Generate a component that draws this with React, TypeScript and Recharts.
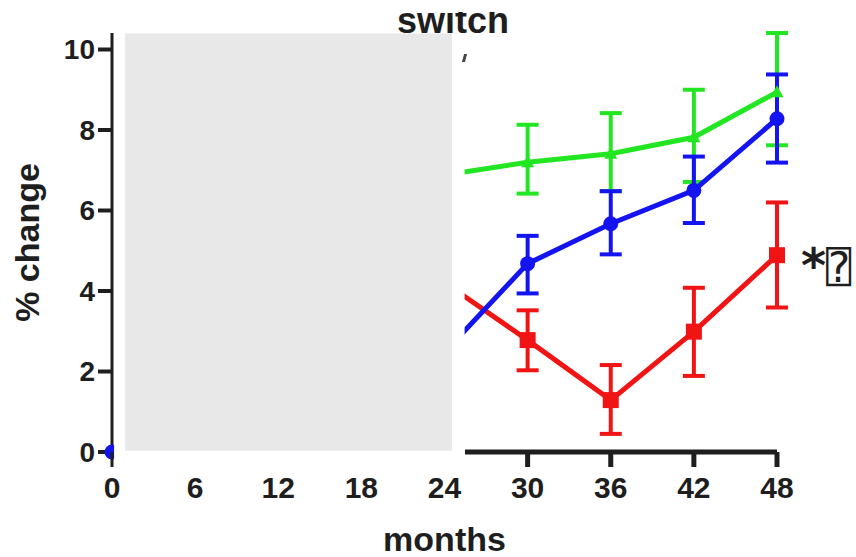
import { LineChart, Line, XAxis, YAxis, ErrorBar, ReferenceArea, ReferenceLine, ReferenceDot, Label } from 'recharts'

const FONT = '"Liberation Sans", Arial, Helvetica, sans-serif'
const GREEN = '#22e622'
const BLUE = '#1414f0'
const RED = '#f01414'
const INK = '#1e1e1e'

// months; points between 0 and 24 sit under the grey box
const months = [0, 24, 30, 36, 42, 48]
const xTicks = [0, 6, 12, 18, 24, 30, 36, 42, 48]
const yTicks = [0, 2, 4, 6, 8, 10]

const green = [null, 6.88, 7.2, 7.41, 7.82, 8.94]
const greenLo = [null, null, 6.42, 6.48, 6.71, 7.62]
const greenHi = [null, null, 8.13, 8.42, 9.0, 10.41]

const blue = [0, 2.48, 4.68, 5.67, 6.5, 8.28]
const blueLo = [null, null, 3.94, 4.91, 5.69, 7.19]
const blueHi = [null, null, 5.37, 6.48, 7.34, 9.38]

const red = [null, 4.21, 2.78, 1.29, 2.99, 4.89]
const redLo = [null, null, 2.03, 0.45, 1.89, 3.59]
const redHi = [null, null, 3.52, 2.16, 4.08, 6.2]

const err = (v: number | null, lo: number | null, hi: number | null) =>
  v == null || lo == null || hi == null ? undefined : [v - lo, hi - v]

const data = months.map((m, i) => ({
  month: m,
  green: green[i],
  greenErr: err(green[i], greenLo[i], greenHi[i]),
  blue: blue[i],
  blueErr: err(blue[i], blueLo[i], blueHi[i]),
  red: red[i],
  redErr: err(red[i], redLo[i], redHi[i]),
}))

function MonthTick({ x, y, payload }: any) {
  const v = payload.value
  const mark = v === 0 || v >= 30
  return (
    <g>
      {mark && (
        <line x1={x} x2={x} y1={y - 25} y2={y - 10} stroke={INK} strokeWidth={v === 0 ? 3 : 5} />
      )}
      <text x={x} y={y + 21} textAnchor="middle" fontSize={30} fontWeight="bold" fontFamily={FONT} fill={INK}>
        {v}
      </text>
    </g>
  )
}

function TriDot({ cx, cy }: any) {
  if (cx == null || cy == null) return null
  return <path d={`M${cx},${cy - 7} L${cx - 6.5},${cy + 5} L${cx + 6.5},${cy + 5} Z`} fill={GREEN} />
}

function RoundDot({ cx, cy }: any) {
  if (cx == null || cy == null) return null
  return <circle cx={cx} cy={cy} r={7.5} fill={BLUE} />
}

function SquareDot({ cx, cy }: any) {
  if (cx == null || cy == null) return null
  return <rect x={cx - 8} y={cy - 8} width={16} height={16} fill={RED} />
}

function StarNote({ viewBox }: any) {
  const { x, y } = viewBox
  return (
    <text x={x + 24} y={y + 27} fill={INK}>
      <tspan fontFamily='"DejaVu Sans", sans-serif' fontWeight="bold" fontSize={48}>*</tspan>
      <tspan fontWeight="normal" fontSize={42} fontFamily='"DejaVu Sans", "DejaVu Sans Mono"'>⍰</tspan>
    </text>
  )
}

export default function App() {
  return (
    <div style={{ position: 'absolute', left: 0, top: 0, width: 856, height: 557, background: '#fff', overflow: 'hidden' }}>
      <LineChart width={856} height={557} data={data} margin={{ top: 33, right: 79, bottom: 0, left: 32 }}>
        <XAxis
          dataKey="month"
          type="number"
          domain={[0, 48]}
          ticks={xTicks}
          interval={0}
          axisLine={false}
          tickLine={false}
          tickSize={14}
          tickMargin={11}
          height={105}
          tick={<MonthTick />}
        >
          <Label value="months" position="insideBottom" offset={6} fontSize={34} fontWeight="bold" fontFamily={FONT} fill={INK} />
        </XAxis>
        <YAxis
          type="number"
          domain={[0, 10.4]}
          ticks={yTicks}
          width={80}
          axisLine={{ stroke: INK, strokeWidth: 3 }}
          tickLine={{ stroke: INK, strokeWidth: 4 }}
          tickSize={14}
          tickMargin={3}
          tick={{ fontSize: 28, fontWeight: 'bold', fill: INK, fontFamily: FONT }}
        >
          <Label
            value="% change"
            angle={-90}
            position="insideLeft"
            offset={-5}
            style={{ textAnchor: 'middle' }}
            fontSize={34}
            fontWeight="bold"
            fontFamily={FONT}
            fill={INK}
          />
        </YAxis>

        <Line dataKey="green" stroke={GREEN} strokeWidth={5} dot={<TriDot />} activeDot={false} isAnimationActive={false}>
          <ErrorBar dataKey="greenErr" width={11} strokeWidth={4} stroke={GREEN} direction="y" />
        </Line>
        <Line dataKey="red" stroke={RED} strokeWidth={5} dot={<SquareDot />} activeDot={false} isAnimationActive={false}>
          <ErrorBar dataKey="redErr" width={11} strokeWidth={4} stroke={RED} direction="y" />
        </Line>
        <Line dataKey="blue" stroke={BLUE} strokeWidth={5} dot={<RoundDot />} activeDot={false} isAnimationActive={false}>
          <ErrorBar dataKey="blueErr" width={11} strokeWidth={4} stroke={BLUE} direction="y" />
        </Line>

        <ReferenceArea x1={0.15} x2={25.45} y1={-0.2} y2={10.4} fill="#ffffff" fillOpacity={1} stroke="none" ifOverflow="visible" zIndex={900} />
        <ReferenceArea x1={0.95} x2={24.54} y1={0.03} y2={10.4} fill="#e8e8e8" fillOpacity={1} stroke="none" ifOverflow="visible" zIndex={910} />
        <ReferenceLine segment={[{ x: 25.48, y: 0 }, { x: 48, y: 0 }]} stroke={INK} strokeWidth={5} ifOverflow="visible" zIndex={920} />
        <ReferenceDot x={48} y={4.89} r={0} fill="none" stroke="none" label={<StarNote />} zIndex={920} />
      </LineChart>

      <div style={{ position: 'absolute', left: 353, top: 12, width: 200, height: 28, overflow: 'hidden' }}>
        <div
          style={{
            position: 'absolute',
            left: 0,
            top: -9.5,
            width: 200,
            textAlign: 'center',
            fontFamily: FONT,
            fontWeight: 'bold',
            fontSize: 36,
            lineHeight: '36px',
            color: INK,
          }}
        >
          switch
        </div>
      </div>
      <div style={{ position: 'absolute', left: 463, top: 54, width: 3, height: 8, background: '#444', transform: 'skewX(-15deg)' }} />
    </div>
  )
}
